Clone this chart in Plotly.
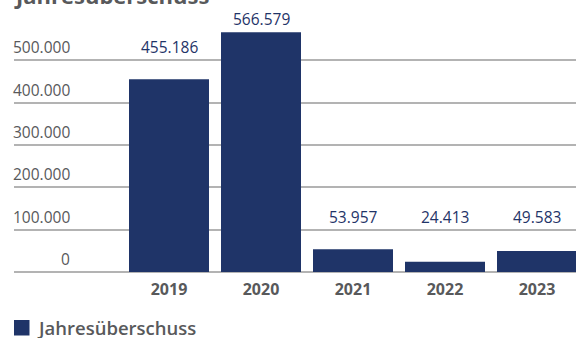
import plotly.graph_objects as go

years = ["2019", "2020", "2021", "2022", "2023"]
values = [455186, 566579, 53957, 24413, 49583]
value_labels = ["455.186", "566.579", "53.957", "24.413", "49.583"]
y_ticks = [0, 100000, 200000, 300000, 400000, 500000]
y_tick_labels = ["0", "100.000", "200.000", "300.000", "400.000", "500.000"]
series_name = "Jahresüberschuss"
title_text = "Jahresüberschuss"

# layout / positioning (not data)
label_y = [532000, 597000, 131000, 131000, 131000]
W, H = 576, 338
ML, MR, MT, MB = 14, 0, 18, 66
PW, PH = W - ML - MR, H - MT - MB

BAR = "#1f3468"
GRAY = "#58595b"
GRID = "#b3b3b3"
FONT = "Open Sans"

def px_x(p):
    return (p - ML) / PW

def px_y(p):
    return (H - MB - p) / PH

fig = go.Figure()
fig.add_trace(go.Bar(
    x=list(range(len(years))), y=values, name=series_name,
    marker=dict(color=BAR, line=dict(width=0)),
    showlegend=False, hoverinfo="skip",
))

annotations = []
for i, (yl, t) in enumerate(zip(label_y, value_labels)):
    annotations.append(dict(x=i, y=yl, xref="x", yref="y", text=t, showarrow=False,
                            xanchor="center", yanchor="middle",
                            font=dict(family=FONT, size=15.5, color=BAR)))
for v, t in zip(y_ticks, y_tick_labels):
    annotations.append(dict(x=px_x(72), y=v, xref="paper", yref="y", text=t, showarrow=False,
                            xanchor="right", yanchor="bottom", yshift=0,
                            font=dict(family=FONT, size=15.5, color=GRAY)))
# clipped title at top
annotations.append(dict(x=px_x(12), y=1, xref="paper", yref="paper", text=title_text,
                        showarrow=False, xanchor="left", yanchor="bottom", yshift=6,
                        font=dict(family=FONT, size=22, color=GRAY, weight=700)))
# legend text
annotations.append(dict(x=px_x(35), y=px_y(327.5), xref="paper", yref="paper", text=series_name,
                        showarrow=False, xanchor="left", yanchor="middle",
                        font=dict(family=FONT, size=18.5, color=GRAY, weight=600)))

shapes = [dict(type="rect", xref="paper", yref="paper",
               x0=px_x(14), x1=px_x(29.5), y0=px_y(335.5), y1=px_y(320),
               fillcolor=BAR, line=dict(width=0))]

fig.update_layout(
    width=W, height=H,
    margin=dict(l=ML, r=MR, t=MT, b=MB, pad=0),
    paper_bgcolor="white", plot_bgcolor="white",
    bargap=12 / 92,
    xaxis=dict(range=[-155 / 92, (PW - 155) / 92], tickmode="array",
               tickvals=list(range(len(years))), ticktext=years,
               showgrid=False, zeroline=False, showline=False, ticks="",
               ticklabelstandoff=6,
               tickfont=dict(family=FONT, size=16, color=GRAY, weight=700),
               fixedrange=True),
    yaxis=dict(range=[0, 600000], tickmode="array", tickvals=y_ticks,
               showticklabels=False, showgrid=True, gridcolor=GRID, gridwidth=1.5,
               zeroline=True, zerolinecolor=GRID, zerolinewidth=2,
               showline=False, ticks="", fixedrange=True),
    annotations=annotations,
    shapes=shapes,
    showlegend=False,
)

fig.write_html("out.html", config={"displayModeBar": False})
